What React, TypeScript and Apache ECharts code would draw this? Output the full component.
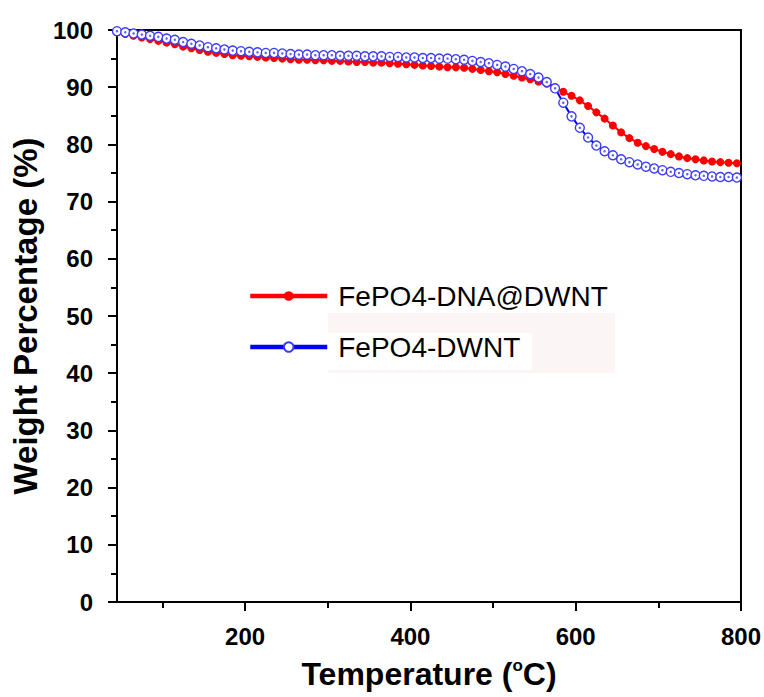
import React, { useEffect, useRef } from "react";
import * as echarts from "echarts";

const temps = [45,55,65,75,85,95,105,115,125,135,145,155,165,175,185,195,205,215,225,235,245,255,265,275,285,295,305,315,325,335,345,355,365,375,385,395,405,415,425,435,445,455,465,475,485,495,505,515,525,535,545,555,565,575,585,595,605,615,625,635,645,655,665,675,685,695,705,715,725,735,745,755,765,775,785,795];

const dnaDwnt = [99.6,99.3,99.0,98.7,98.4,98.1,97.8,97.5,97.1,96.8,96.5,96.2,96.0,95.8,95.6,95.5,95.4,95.3,95.2,95.1,95.0,94.9,94.8,94.8,94.7,94.7,94.6,94.6,94.5,94.4,94.4,94.3,94.3,94.2,94.1,94.0,93.9,93.8,93.7,93.6,93.5,93.5,93.4,93.2,93.0,92.8,92.6,92.3,92.0,91.7,91.4,91.0,90.6,90.0,89.2,88.5,87.7,86.7,85.6,84.5,83.3,82.1,81.1,80.3,79.7,79.2,78.7,78.3,77.9,77.6,77.4,77.2,77.0,76.9,76.8,76.7];

const dwnt = [99.8,99.6,99.4,99.2,99.0,98.8,98.5,98.3,97.9,97.6,97.3,97.0,96.8,96.6,96.4,96.3,96.2,96.1,96.0,96.0,95.9,95.8,95.7,95.7,95.6,95.6,95.6,95.5,95.5,95.5,95.4,95.4,95.4,95.3,95.3,95.2,95.2,95.1,95.1,95.0,95.0,94.9,94.8,94.6,94.4,94.2,93.9,93.6,93.2,92.8,92.3,91.7,90.9,89.8,87.3,84.9,82.9,81.2,79.8,78.8,78.1,77.4,76.9,76.5,76.1,75.8,75.5,75.2,75.0,74.8,74.6,74.5,74.4,74.3,74.3,74.2];

const seriesNames = ["FePO4-DNA@DWNT", "FePO4-DWNT"];
const xMajorTicks = [200, 400, 600, 800];
const xMinorTicks = [100, 300, 500, 700];

export default function App() {
  const ref = useRef<HTMLDivElement>(null);
  useEffect(() => {
    if (!ref.current) return;
    const chart = echarts.init(ref.current, null, { renderer: "svg" });
    const redData = temps.map((t, i) => [t, dnaDwnt[i]]);
    const blueData = temps.map((t, i) => [t, dwnt[i]]);
    const font = "'Liberation Sans', Arial, sans-serif";
    chart.setOption({
      animation: false,
      backgroundColor: "#fff",
      textStyle: { fontFamily: font },
      grid: {
        left: 117, right: 23, top: 30, bottom: 95,
        show: true, borderColor: "#000", borderWidth: 2, backgroundColor: "transparent",
      },
      graphic: [
        { type: "rect", shape: { x: 328, y: 313, width: 287, height: 60 }, style: { fill: "#fcf5f5" }, z: 0 },
        { type: "rect", shape: { x: 328, y: 333, width: 204, height: 37 }, style: { fill: "#ffffff" }, z: 0 },
      ],
      legend: {
        data: seriesNames,
        orient: "vertical",
        left: 243,
        top: 277,
        itemWidth: 77,
        itemHeight: 12,
        itemGap: 23,
        lineStyle: { width: 4.5 },
        textStyle: { fontSize: 28, color: "#000", fontFamily: font, padding: [0, 0, 0, 6] },
        z: 5,
      },
      xAxis: [
        {
          type: "value", min: 45, max: 800,
          name: "{a|Temperature (}{s|o}{a|C)}",
          nameLocation: "middle", nameGap: 53,
          nameTextStyle: {
            rich: {
              a: { fontSize: 32, fontWeight: "bold", fontFamily: font, color: "#000", lineHeight: 38 },
              s: { fontSize: 17, fontWeight: "bold", fontFamily: font, color: "#000", verticalAlign: "top", lineHeight: 38, padding: [2, 0, 0, 0] },
            },
          },
          axisLine: { show: true, lineStyle: { color: "#000", width: 2 } },
          axisTick: { show: true, inside: false, length: 9, lineStyle: { color: "#000", width: 2 }, customValues: xMajorTicks },
          axisLabel: { customValues: xMajorTicks, fontSize: 24, fontWeight: "bold", color: "#000", margin: 22, fontFamily: font },
          splitLine: { show: false },
        },
        {
          type: "value", min: 45, max: 800, position: "bottom",
          axisLine: { show: false },
          axisTick: { show: true, inside: false, length: 6, lineStyle: { color: "#000", width: 2 }, customValues: xMinorTicks },
          axisLabel: { show: false },
          splitLine: { show: false },
        },
      ],
      yAxis: {
        type: "value", min: 0, max: 100, interval: 10,
        name: "Weight Percentage (%)",
        nameLocation: "middle", nameGap: 71,
        nameTextStyle: { fontSize: 33, fontWeight: "bold", color: "#000", fontFamily: font },
        axisLine: { show: true, lineStyle: { color: "#000", width: 2 } },
        axisTick: { show: true, inside: false, length: 9, lineStyle: { color: "#000", width: 2 } },
        minorTick: { show: true, splitNumber: 2, length: 6, lineStyle: { color: "#000", width: 2 } },
        axisLabel: { fontSize: 24, fontWeight: "bold", color: "#000", margin: 24, fontFamily: font },
        splitLine: { show: false },
      },
      series: [
        {
          name: seriesNames[0], type: "line", data: redData, xAxisIndex: 0,
          symbol: "circle", symbolSize: 8, showAllSymbol: true,
          itemStyle: { color: "#ff0000" },
          lineStyle: { color: "#ff0000", width: 2 },
          z: 2,
        },
        {
          name: seriesNames[1], type: "line", data: blueData, xAxisIndex: 0,
          symbol: "circle", symbolSize: 9, showAllSymbol: true,
          itemStyle: { color: "#ffffff", borderColor: "#3a3aff", borderWidth: 1.4 },
          lineStyle: { color: "#0000ff", width: 2 },
          z: 3,
        },
        {
          name: "dwnt-centre", type: "scatter", data: blueData, xAxisIndex: 0,
          symbol: "circle", symbolSize: 2.5,
          itemStyle: { color: "#3a3aff" },
          silent: true, z: 4,
        },
      ],
    });
    return () => chart.dispose();
  }, []);
  return <div ref={ref} style={{ position: "fixed", left: 0, top: 0, width: 764, height: 697 }} />;
}
